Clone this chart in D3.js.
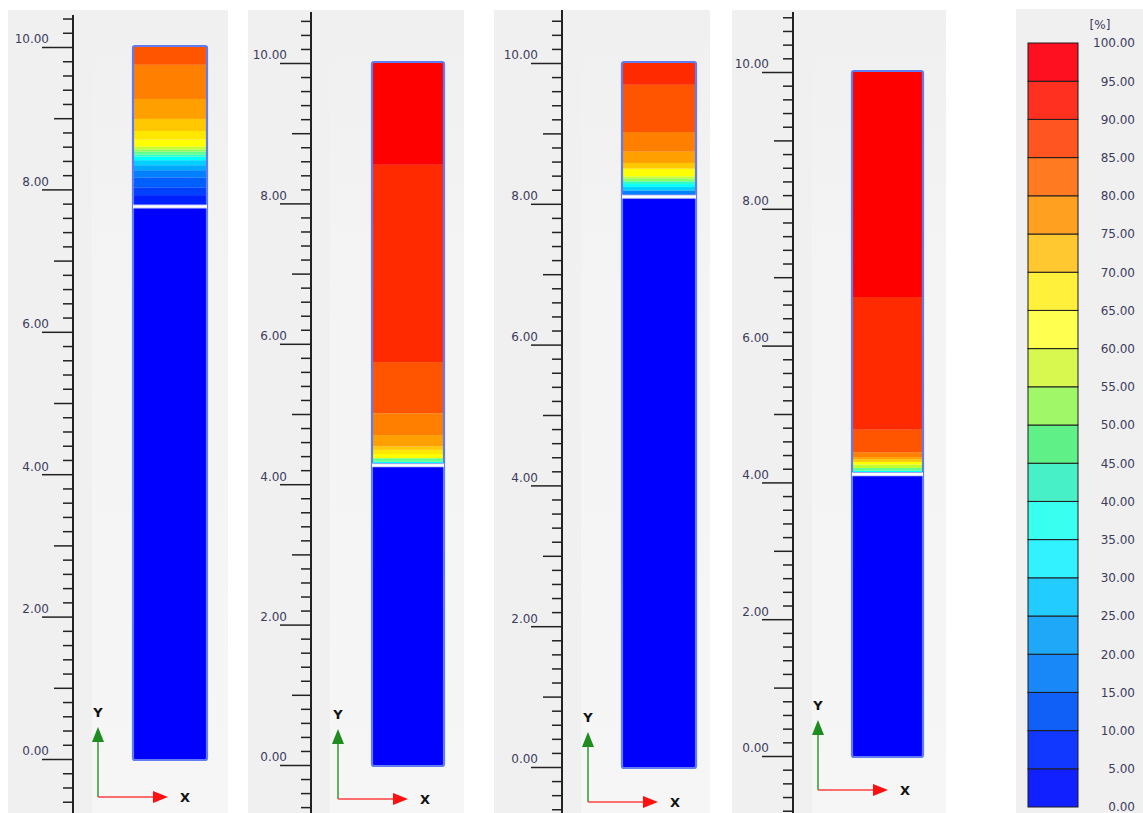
<!doctype html>
<html>
<head>
<meta charset="UTF-8">
<title>Saturation columns</title>
<script src="https://cdn.jsdelivr.net/npm/d3@7"></script>
<style>
  body { margin: 0; background: #ffffff; }
  svg { display: block; }
  text { font-family: "DejaVu Sans", sans-serif; }
</style>
</head>
<body>
<svg id="chart" width="1143" height="813"></svg>
<script>
// ---- data: colour bins (percent) ----
var binEdges = d3.range(0, 101, 5);
var binColors = ["#0000ff","#0020ff","#0040ff","#0060ff","#0080ff","#00a8ff","#00d0ff","#00ffff","#30ffc8","#60ff90",
                 "#90ff60","#c0ff30","#ffff00","#ffe800","#ffc800","#ffa000","#ff7f00","#ff5500","#ff2a00","#ff0000"];
var legendColors = ["#1020ff","#1038ff","#1060f8","#1888f8","#20a8f8","#22ccff","#33f2ff","#38fff0","#48f0c8","#60f088",
                    "#a0f868","#d8f850","#ffff50","#fff03c","#ffc830","#ffa020","#ff7a20","#ff5520","#ff3020","#ff1020"];

// ---- data: bands in each column (from, to in model Y, value in %) ----
var column1 = [
  {from: 0.00, to: 7.75, v: 2},  {from: 7.77, to: 7.92, v: 7},  {from: 7.92, to: 8.03, v: 12},
  {from: 8.03, to: 8.17, v: 17}, {from: 8.17, to: 8.27, v: 22}, {from: 8.27, to: 8.34, v: 28},
  {from: 8.34, to: 8.41, v: 33}, {from: 8.41, to: 8.46, v: 38}, {from: 8.46, to: 8.49, v: 43},
  {from: 8.49, to: 8.53, v: 48}, {from: 8.53, to: 8.56, v: 53}, {from: 8.56, to: 8.60, v: 57},
  {from: 8.60, to: 8.70, v: 62}, {from: 8.70, to: 8.82, v: 66}, {from: 8.82, to: 8.99, v: 72},
  {from: 8.99, to: 9.27, v: 77}, {from: 9.27, to: 9.75, v: 82}, {from: 9.75, to: 10.00, v: 87}
];
var column2 = [
  {from: 0.00, to: 4.26, v: 2},  {from: 4.28, to: 4.32, v: 37}, {from: 4.32, to: 4.37, v: 47},
  {from: 4.37, to: 4.43, v: 62}, {from: 4.43, to: 4.49, v: 67}, {from: 4.49, to: 4.54, v: 72},
  {from: 4.54, to: 4.70, v: 77}, {from: 4.70, to: 5.01, v: 82}, {from: 5.01, to: 5.74, v: 87},
  {from: 5.74, to: 8.55, v: 92}, {from: 8.55, to: 10.00, v: 97}
];
var column3 = [
  {from: 0.00, to: 8.09, v: 2},  {from: 8.11, to: 8.13, v: 12}, {from: 8.13, to: 8.19, v: 22},
  {from: 8.19, to: 8.24, v: 32}, {from: 8.24, to: 8.28, v: 37}, {from: 8.28, to: 8.32, v: 42},
  {from: 8.32, to: 8.36, v: 52}, {from: 8.36, to: 8.39, v: 57}, {from: 8.39, to: 8.50, v: 62},
  {from: 8.50, to: 8.58, v: 72}, {from: 8.58, to: 8.74, v: 77}, {from: 8.74, to: 9.02, v: 82},
  {from: 9.02, to: 9.69, v: 87}, {from: 9.69, to: 10.00, v: 92}
];
var column4 = [
  {from: 0.00, to: 4.11, v: 2},  {from: 4.13, to: 4.17, v: 37}, {from: 4.17, to: 4.21, v: 47},
  {from: 4.21, to: 4.26, v: 57}, {from: 4.26, to: 4.30, v: 62}, {from: 4.30, to: 4.34, v: 72},
  {from: 4.34, to: 4.37, v: 77}, {from: 4.37, to: 4.44, v: 82}, {from: 4.44, to: 4.77, v: 87},
  {from: 4.77, to: 6.71, v: 92}, {from: 6.71, to: 10.00, v: 97}
];
var columns = [column1, column2, column3, column4];
var waterLevels = [7.76, 4.27, 8.10, 4.12];
var columnExtent = [0, 10];
var legendTitle = "[%]";

// ---- layout (pixels) ----
var H = 813;
var panels = [
  {bgX: 8,   bgW: 220, axisX: 73,  colX0: 134, colX1: 206, y0: 759, y10: 47, top: 15, arrowX: 98,  arrowY: 797},
  {bgX: 248, bgW: 216, axisX: 311, colX0: 373, colX1: 443, y0: 765, y10: 63, top: 12, arrowX: 338, arrowY: 799},
  {bgX: 494, bgW: 216, axisX: 562, colX0: 623, colX1: 695, y0: 767, y10: 63, top: 10, arrowX: 588, arrowY: 802},
  {bgX: 732, bgW: 214, axisX: 793, colX0: 853, colX1: 922, y0: 756, y10: 72, top: 12, arrowX: 818, arrowY: 790}
];

var svg = d3.select("#chart");
var color = d3.scaleQuantize().domain([0, 100]).range(binColors);

var defs = svg.append("defs");
var grad = defs.append("linearGradient").attr("id", "bgGrad")
  .attr("x1", 0).attr("y1", 0).attr("x2", 0).attr("y2", 1);
grad.append("stop").attr("offset", "0").attr("stop-color", "#f0f0f0");
grad.append("stop").attr("offset", "0.12").attr("stop-color", "#f1f1f1");
grad.append("stop").attr("offset", "0.35").attr("stop-color", "#f4f4f4");
grad.append("stop").attr("offset", "1").attr("stop-color", "#f6f6f6");

panels.forEach(function(p, i) {
  var g = svg.append("g");
  var y = d3.scaleLinear().domain(columnExtent).range([p.y0, p.y10]);
  var x = d3.scaleLinear().domain([0, 1]).range([p.colX0, p.colX1]);

  // background
  g.append("rect").attr("x", p.bgX).attr("y", 10).attr("width", p.bgW).attr("height", H - 10)
    .attr("fill", "#f0f0f0");
  g.append("rect").attr("x", p.axisX + 19).attr("y", 10).attr("width", p.bgX + p.bgW - p.axisX - 19).attr("height", H - 10)
    .attr("fill", "url(#bgGrad)");

  // ruler
  var lo = y.invert(H), hi = y.invert(p.top);
  var all = d3.range(Math.ceil(lo * 5 - 1e-6), Math.floor(hi * 5 + 1e-6) + 1);
  var major = all.filter(function(k) { return k % 10 === 0; }).map(function(k) { return k / 5; });
  var medium = all.filter(function(k) { return k % 5 === 0 && k % 10 !== 0; }).map(function(k) { return k / 5; });
  var minor = all.filter(function(k) { return k % 5 !== 0; }).map(function(k) { return k / 5; });

  var ax = g.append("g").attr("transform", "translate(" + p.axisX + ",0)");
  [[minor, 10], [medium, 19], [major, 31]].forEach(function(t) {
    ax.append("g").call(d3.axisLeft(y).tickValues(t[0]).tickSize(t[1]).tickFormat(""))
      .call(function(s) { s.select(".domain").remove(); })
      .selectAll("line").attr("stroke", "#222").attr("stroke-width", 1.5);
  });
  var lab = ax.append("g")
    .call(d3.axisLeft(y).tickValues(major.filter(function(v) { return v >= 0 && v <= 10; }))
      .tickSize(0).tickFormat(d3.format(".2f")));
  lab.select(".domain").remove();
  lab.selectAll("text").attr("x", -24).attr("dy", "-0.35em")
    .attr("font-size", 12).attr("font-family", "DejaVu Sans, sans-serif").attr("fill", "#3c3c5c");
  ax.append("line").attr("x1", 0).attr("x2", 0).attr("y1", p.top).attr("y2", H)
    .attr("stroke", "#222").attr("stroke-width", 2);

  // column bands
  var col = g.append("g");
  col.selectAll("rect.band").data(columns[i]).enter().append("rect")
    .attr("class", "band")
    .attr("x", x(0)).attr("width", x(1) - x(0))
    .attr("y", function(d) { return y(d.to); })
    .attr("height", function(d) { return y(d.from) - y(d.to); })
    .attr("fill", function(d) { return color(d.v); });
  // gaps around water line filled with band below colour
  col.append("rect").attr("x", x(0)).attr("width", x(1) - x(0))
    .attr("y", y(waterLevels[i]) - 2).attr("height", 4).attr("fill", color(2));
  col.append("rect")
    .attr("x", x(0) - 1).attr("y", y(columnExtent[1]) - 1)
    .attr("width", x(1) - x(0) + 2).attr("height", y(columnExtent[0]) - y(columnExtent[1]) + 2)
    .attr("rx", 2).attr("fill", "none").attr("stroke", "#5f7cf0").attr("stroke-width", 2.2);
  // water level
  col.append("line").attr("x1", x(0) - 1).attr("x2", x(1) + 1)
    .attr("y1", y(waterLevels[i])).attr("y2", y(waterLevels[i]))
    .attr("stroke", "#c8d0f4").attr("stroke-width", 4);
  col.append("line").attr("x1", x(0) - 1).attr("x2", x(1) + 1)
    .attr("y1", y(waterLevels[i])).attr("y2", y(waterLevels[i]))
    .attr("stroke", "#ffffff").attr("stroke-width", 2.2);

  // axis triad
  var tri = g.append("g").attr("transform", "translate(" + p.arrowX + "," + p.arrowY + ")");
  tri.append("line").attr("x1", 0).attr("y1", 0).attr("x2", 0).attr("y2", -58)
    .attr("stroke", "#2e9a2e").attr("stroke-width", 1.5);
  tri.append("path").attr("d", "M0,-70 L-6,-55 L6,-55 Z").attr("fill", "#1e8c1e");
  tri.append("line").attr("x1", 0).attr("y1", 0).attr("x2", 58).attr("y2", 0)
    .attr("stroke", "#ff4040").attr("stroke-width", 1.5);
  tri.append("path").attr("d", "M70,0 L55,-6 L55,6 Z").attr("fill", "#ff1010");
  tri.append("text").attr("x", 0).attr("y", -80).attr("text-anchor", "middle")
    .attr("font-size", 13).attr("font-weight", "bold").attr("fill", "#111").text("Y");
  tri.append("text").attr("x", 87).attr("y", 5).attr("text-anchor", "middle")
    .attr("font-size", 13).attr("font-weight", "bold").attr("fill", "#111").text("X");
});

// ---- legend ----
var lg = svg.append("g");
lg.append("rect").attr("x", 1016).attr("y", 9).attr("width", 1143 - 1016).attr("height", H - 9).attr("fill", "#f0f0f0");
var ly = d3.scaleLinear().domain([0, 100]).range([807, 43]);
var bins = d3.range(binEdges.length - 1).map(function(k) { return {lo: binEdges[k], hi: binEdges[k + 1], c: legendColors[k]}; });
lg.selectAll("rect.cell").data(bins).enter().append("rect")
  .attr("class", "cell")
  .attr("x", 1028).attr("width", 50)
  .attr("y", function(d) { return ly(d.hi); })
  .attr("height", function(d) { return ly(d.lo) - ly(d.hi); })
  .attr("fill", function(d) { return d.c; })
  .attr("stroke", "#1c1c1c").attr("stroke-width", 1);
lg.selectAll("text.lab").data(binEdges).enter().append("text")
  .attr("class", "lab")
  .attr("x", 1135).attr("y", function(d) { return ly(d); })
  .attr("dy", "0.36em").attr("text-anchor", "end")
  .attr("font-size", 12).attr("fill", "#3c3c5c")
  .text(function(d) { return d3.format(".2f")(d); });
lg.append("text").attr("x", 1100).attr("y", 29).attr("text-anchor", "middle")
  .attr("font-size", 12).attr("fill", "#3c3c5c").text(legendTitle);
</script>
</body>
</html>
